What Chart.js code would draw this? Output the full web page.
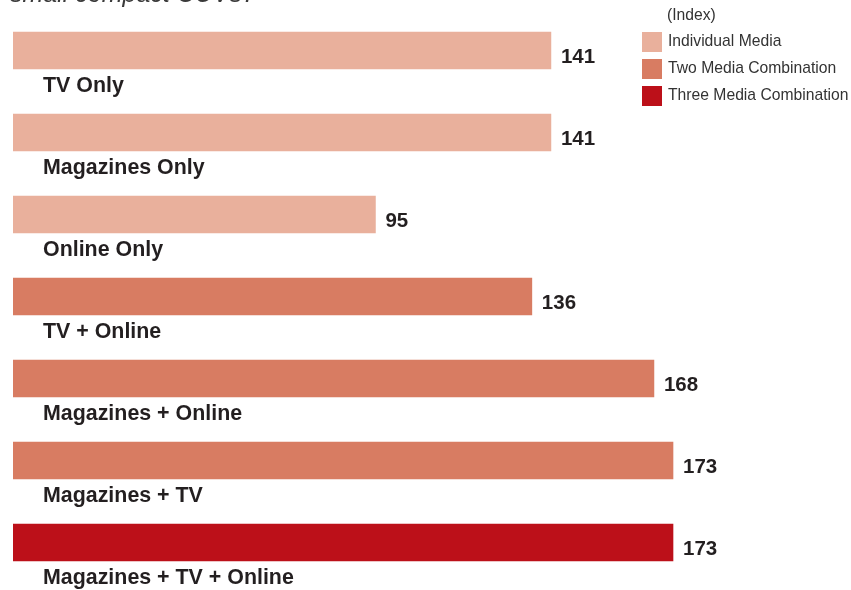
<!DOCTYPE html>
<html>
<head>
<meta charset="utf-8">
<script src="https://cdn.jsdelivr.net/npm/chart.js@4"></script>
<style>
  html, body { margin: 0; padding: 0; background: #fff; }
  #wrap { position: relative; width: 851px; height: 590px; }
</style>
</head>
<body>
<div id="wrap"><canvas id="miGraficoMedios" width="851" height="590"></canvas></div>
<script>
// datos
const categorias = ['TV Only', 'Magazines Only', 'Online Only', 'TV + Online', 'Magazines + Online', 'Magazines + TV', 'Magazines + TV + Online'];
const valores = [141, 141, 95, 136, 168, 173, 173];
const grupos = [0, 0, 0, 1, 1, 1, 2];
const nombresGrupo = ['Individual Media', 'Two Media Combination', 'Three Media Combination'];
const coloresGrupo = ['#E9B09C', '#D87C62', '#BC1019'];
const tituloTexto = 'small compact CUVs?';
const indiceTexto = '(Index)';

const etiquetasPlugin = {
    id: 'etiquetas',
    afterDatasetsDraw(chart) {
        const ctx = chart.ctx;
        const meta = chart.getDatasetMeta(0);
        ctx.save();
        ctx.fillStyle = '#231f20';
        ctx.textBaseline = 'alphabetic';
        ctx.textAlign = 'left';
        meta.data.forEach((bar, i) => {
            ctx.font = 'bold 20.5px "Liberation Sans", Arial, sans-serif';
            ctx.fillText(String(valores[i]), bar.x + 10, bar.y + 12);
            ctx.font = 'bold 21.4px "Liberation Sans", Arial, sans-serif';
            ctx.fillText(categorias[i], 43, bar.y + 41);
        });
        ctx.restore();
    },
    afterDraw(chart) {
        const ctx = chart.ctx;
        ctx.save();
        // titulo cortado arriba
        ctx.fillStyle = '#3a3a3a';
        ctx.font = 'italic 25px "Liberation Sans", Arial, sans-serif';
        ctx.textBaseline = 'alphabetic';
        ctx.fillText(tituloTexto, 10, 2);
        // leyenda
        ctx.font = '15.7px "Liberation Sans", Arial, sans-serif';
        ctx.textBaseline = 'middle';
        ctx.fillStyle = '#333';
        ctx.fillText(indiceTexto, 667, 16);
        nombresGrupo.forEach((n, i) => {
            const y = 32 + i * 27;
            ctx.fillStyle = coloresGrupo[i];
            ctx.fillRect(642, y, 20, 20);
            ctx.fillStyle = '#333';
            ctx.fillText(n, 668, y + 10);
        });
        ctx.restore();
    }
};

const grafico = new Chart(document.getElementById('miGraficoMedios'), {
    type: 'bar',
    data: {
        labels: categorias,
        datasets: [{
            data: valores,
            backgroundColor: grupos.map(g => coloresGrupo[g]),
            barThickness: 37,
            borderWidth: 0
        }]
    },
    options: {
        indexAxis: 'y',
        responsive: false,
        animation: false,
        layout: { padding: { left: 13, right: 75, top: 9.5, bottom: 6.5 } },
        scales: {
            x: { display: false, min: 0, max: 200 },
            y: { display: false }
        },
        plugins: { legend: { display: false }, tooltip: { enabled: false } }
    },
    plugins: [etiquetasPlugin]
});
</script>
</body>
</html>
